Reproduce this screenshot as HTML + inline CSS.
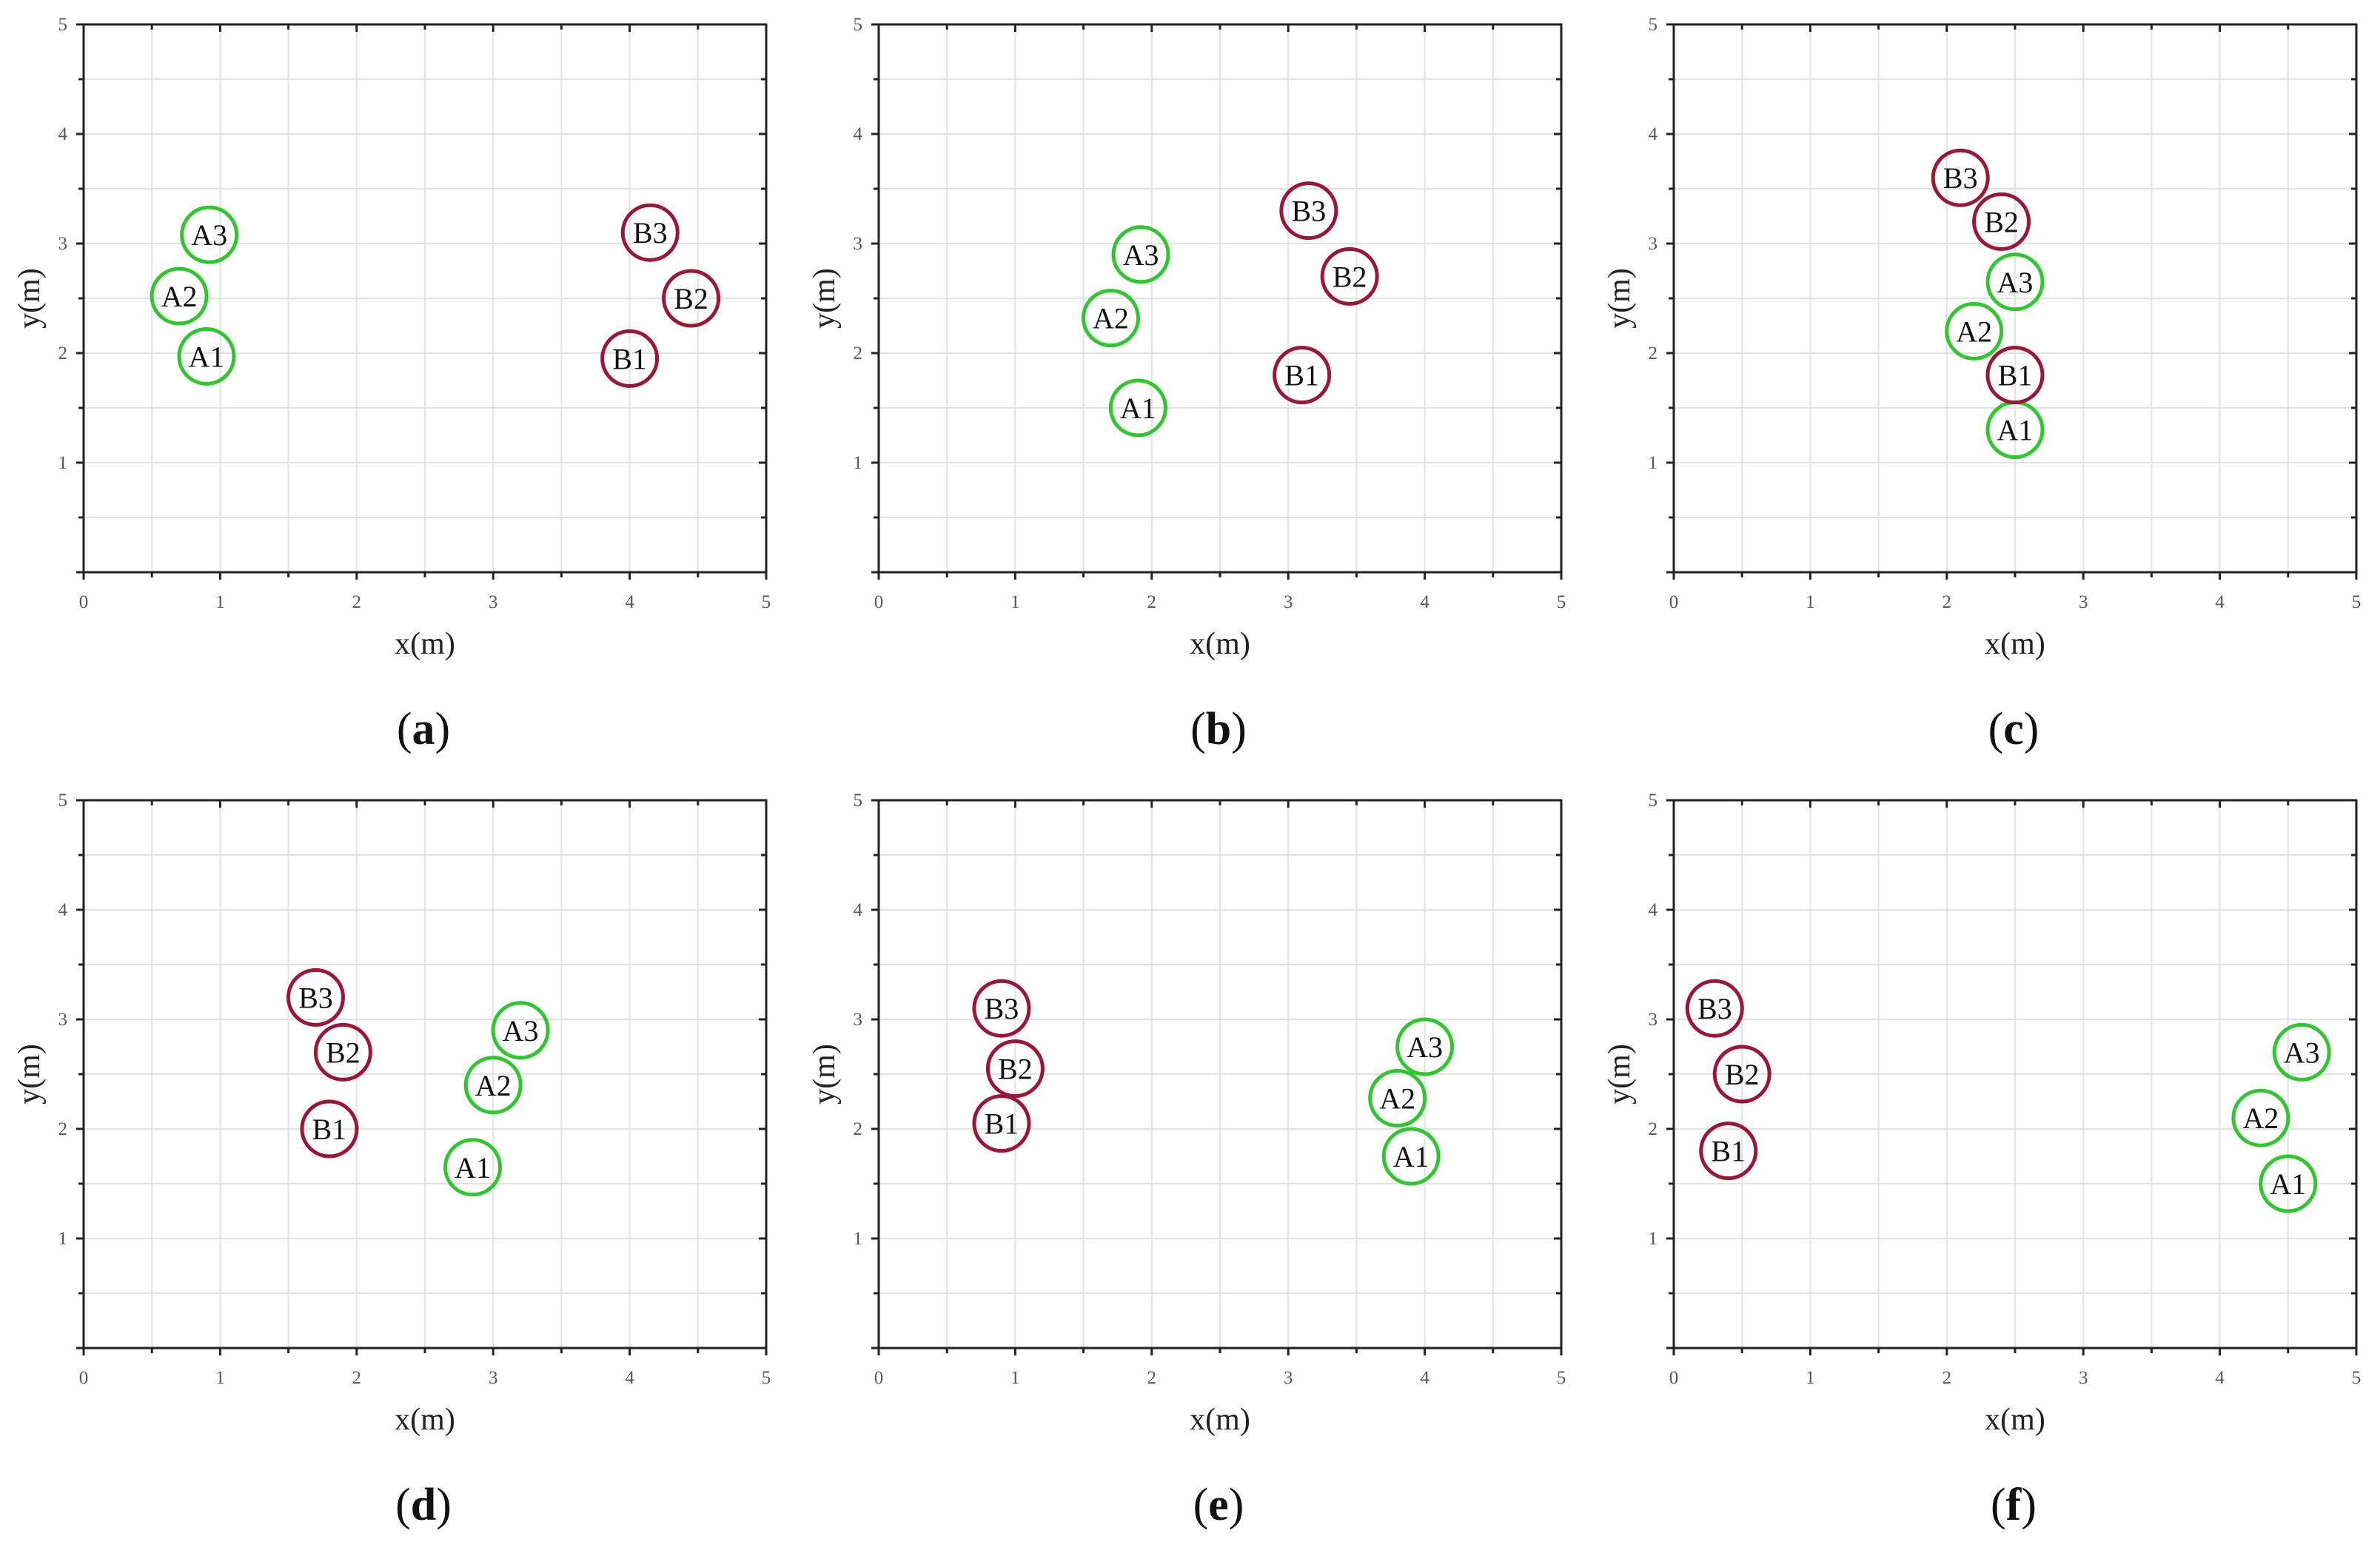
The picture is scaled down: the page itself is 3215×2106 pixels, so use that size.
<!DOCTYPE html>
<html><head><meta charset="utf-8"><style>
html,body{margin:0;padding:0;background:#fff;}
svg{display:block;}
</style></head><body>
<svg id="fig" width="3215" height="2106" viewBox="0 0 3215 2106" xmlns="http://www.w3.org/2000/svg" font-family="'Liberation Serif', serif"></svg>
<script>
const panelLetters = ['a','b','c','d','e','f'];
const pointLabels = ['A1','A2','A3','B1','B2','B3'];
const xValues = [
  [0.9,0.7,0.92,4.0,4.45,4.15],
  [1.9,1.7,1.92,3.1,3.45,3.15],
  [2.5,2.2,2.5,2.5,2.4,2.1],
  [2.85,3.0,3.2,1.8,1.9,1.7],
  [3.9,3.8,4.0,0.9,1.0,0.9],
  [4.5,4.3,4.6,0.4,0.5,0.3]
];
const yValues = [
  [1.97,2.52,3.08,1.95,2.5,3.1],
  [1.5,2.32,2.9,1.8,2.7,3.3],
  [1.3,2.2,2.65,1.8,3.2,3.6],
  [1.65,2.4,2.9,2.0,2.7,3.2],
  [1.75,2.28,2.75,2.05,2.55,3.1],
  [1.5,2.1,2.7,1.8,2.5,3.1]
];
const tickValues = [0,1,2,3,4,5];

const NS='http://www.w3.org/2000/svg';
const fig=document.getElementById('fig');
function mk(tag,attrs,parent){const e=document.createElementNS(NS,tag);for(const k in attrs)e.setAttribute(k,attrs[k]);(parent||fig).appendChild(e);return e;}
const W=922, H=740;
const lefts=[113,1187,2261], tops=[33,1081];
panelLetters.forEach((L,p)=>{
  const x0=lefts[p%3], y0=tops[Math.floor(p/3)];
  const sx=v=>x0+v/5*W, sy=v=>y0+H-v/5*H;
  const g=mk('g',{});
  
  
  for(let i=1;i<10;i++){
    const v=i*0.5;
    mk('line',{x1:sx(v),x2:sx(v),y1:y0,y2:y0+H,stroke:'#e2e2e2','stroke-width':2},g);
    mk('line',{x1:x0,x2:x0+W,y1:sy(v),y2:sy(v),stroke:'#e2e2e2','stroke-width':2},g);
  }
  const fr=mk('rect',{x:x0,y:y0,width:W,height:H,fill:'none',stroke:'#222','stroke-width':3},g);
  
  
  for(let i=0;i<=10;i++){
    const v=i*0.5, len=(i%2==0)?10:7;
    mk('line',{x1:sx(v),x2:sx(v),y1:y0+H,y2:y0+H+len,stroke:'#222','stroke-width':3},g);
    mk('line',{x1:sx(v),x2:sx(v),y1:y0,y2:y0+len,stroke:'#222','stroke-width':3},g);
    mk('line',{x1:x0,x2:x0-len,y1:sy(v),y2:sy(v),stroke:'#222','stroke-width':3},g);
    mk('line',{x1:x0+W,x2:x0+W-len,y1:sy(v),y2:sy(v),stroke:'#222','stroke-width':3},g);
  }
  tickValues.forEach(t=>{
    const tx=mk('text',{x:sx(t),y:y0+H+48,'font-size':25,fill:'#555','text-anchor':'middle'},g);
    tx.textContent=t;
    
    
    if(t>0){
      const ty=mk('text',{x:x0-22,y:sy(t)+8,'font-size':25,fill:'#555','text-anchor':'end'},g);
      ty.textContent=t;
      
      
    }
  });
  const xt=mk('text',{x:x0+W/2,y:y0+H+110,'font-size':42,fill:'#222','text-anchor':'middle'},g);
  xt.textContent='x(m)';
  
  
  const yt=mk('text',{x:0,y:0,'font-size':42,fill:'#222','text-anchor':'middle',transform:`translate(${x0-60},${y0+H/2}) rotate(-90)`},g);
  yt.textContent='y(m)';
  
  
  const cap=mk('text',{x:x0+W/2-2,y:y0+H+232,'font-size':62,fill:'#111','text-anchor':'middle'},g);
  cap.innerHTML='(<tspan font-weight="bold">'+L+'</tspan>)';
  
  
  pointLabels.forEach((lab,i)=>{
    const cx=sx(xValues[p][i]), cy=sy(yValues[p][i]);
    const col=lab[0]==='A'?'#2ec82e':'#9c1638';
    const c=mk('circle',{cx:cx,cy:cy,r:37,fill:'none',stroke:col,'stroke-width':5},g);
    
    
    const t=mk('text',{x:cx,y:cy+14,'font-size':40,fill:'#111','text-anchor':'middle'},g);
    t.textContent=lab;
    
    
  });
});
</script>
</body></html>
